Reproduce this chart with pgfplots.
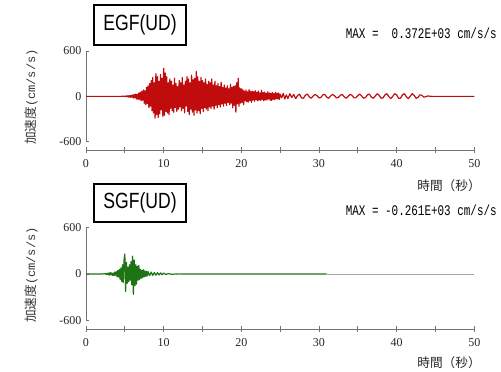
\documentclass[border=0pt]{standalone}
\usepackage{pgfplots}
\pgfplotsset{compat=1.18}
\usepackage{pgfplotstable}
\usepackage{fontspec}
\setmainfont{Liberation Serif}
\newfontfamily\cjk{Noto Sans CJK JP}
\newfontfamily\sansf{Liberation Sans}
\newfontfamily\monof{Liberation Mono}
\definecolor{egf}{RGB}{192,12,12}
\definecolor{sgf}{RGB}{30,115,20}
\definecolor{axgray}{RGB}{115,115,115}

\pgfplotstableread{
t a
0 0
4.5 0
5.0 3
5.1 -5
5.2 6
5.3 -4
5.4 8
5.5 -10
5.6 9
5.7 -12
5.8 14
5.9 -11
6.0 18
6.1 -22
6.2 25
6.3 -20
6.4 30
6.5 -35
6.6 28
6.7 -40
6.8 45
6.9 -38
7.0 55
7.1 -60
7.2 70
7.3 -50
7.4 85
7.5 -90
7.6 75
7.7 -110
7.8 120
7.9 -95
8.0 140
8.1 -150
8.2 170
8.3 -130
8.4 210
8.5 -190
8.6 250
8.7 -220
8.8 180
8.9 -290
9.0 300
9.1 -240
9.2 260
9.3 -280
9.4 200
9.5 -230
9.6 290
9.7 -180
9.8 240
9.9 -270
10.0 372
10.1 -250
10.2 310
10.3 -200
10.4 260
10.5 -220
10.6 180
10.7 -240
10.8 230
10.9 -160
11.0 200
11.1 -190
11.2 150
11.3 -210
11.4 240
11.5 -150
11.6 170
11.7 -200
11.8 130
11.9 -170
12.0 210
12.1 -140
12.2 180
12.3 -190
12.4 250
12.5 -160
12.6 150
12.7 -220
12.8 200
12.9 -130
13.0 260
13.1 -200
13.2 230
13.3 -240
13.4 180
13.5 -170
13.6 280
13.7 -210
13.8 220
13.9 -250
14.0 240
14.1 -180
14.2 330
14.3 -220
14.4 260
14.5 -190
14.6 200
14.7 -230
14.8 250
14.9 -160
15.0 210
15.1 -200
15.2 180
15.3 -150
15.4 230
15.5 -170
15.6 160
15.7 -190
15.8 200
15.9 -140
16.0 180
16.1 -160
16.2 230
16.3 -130
16.4 150
16.5 -170
16.6 200
16.7 -120
16.8 140
16.9 -150
17.0 170
17.1 -110
17.2 130
17.3 -140
17.4 190
17.5 -100
17.6 120
17.7 -130
17.8 150
17.9 -90
18.0 110
18.1 -120
18.2 140
18.3 -80
18.4 100
18.5 -110
18.6 160
18.7 -90
18.8 120
18.9 -150
19.0 130
19.1 -120
19.2 140
19.3 -210
19.4 180
19.5 -100
19.6 240
19.7 -130
19.8 110
19.9 -90
20.0 100
20.1 -80
20.2 90
20.3 -110
20.4 70
20.5 -60
20.6 85
20.7 -70
20.8 60
20.9 -75
21.0 90
21.1 -55
21.2 65
21.3 -80
21.4 70
21.5 -50
21.6 60
21.7 -65
21.8 75
21.9 -45
22.0 55
22.1 -60
22.2 70
22.3 -50
22.4 45
22.5 -55
22.6 80
22.7 -40
22.8 50
22.9 -60
23.0 55
23.1 -45
23.2 40
23.3 -50
23.4 60
23.5 -35
23.6 45
23.7 -50
23.8 40
23.9 -55
24.0 50
24.1 -40
24.2 35
24.3 -45
24.4 55
24.5 -30
24.6 40
24.7 -35
24.8 45
24.9 -40
25.0 30
25.2 -20
25.4 40
25.6 -35
25.8 20
26.0 -30
26.25 35
26.5 -15
26.75 25
27.0 -30
27.25 10
27.5 30
27.75 -20
28.0 -25
28.25 15
28.5 30
28.75 -5
29.0 -25
29.25 5
29.5 25
29.75 10
30.0 -20
30.25 -15
30.5 20
30.75 25
31.0 -10
31.25 -25
31.5 5
31.75 25
32.0 10
32.25 -20
32.5 -15
32.75 15
33.0 25
33.25 -5
33.5 -25
33.75 0
34.0 25
34.25 15
34.5 -20
34.75 -20
35.0 10
35.25 30
35.5 5
35.75 -25
36.0 -15
36.25 20
36.5 30
36.75 -10
37.0 -25
37.25 5
37.5 35
37.75 15
38.0 -25
38.25 -20
38.5 20
38.75 35
39.0 -5
39.25 -30
39.5 0
39.75 35
40.0 20
40.25 -25
40.5 -25
40.75 20
41.0 35
41.25 -5
41.5 -30
41.75 0
42.0 35
42.25 15
42.5 -25
42.75 -15
43.0 20
43.25 15
43.5 -10
43.75 -5
44.0 5
44.5 0
50 0
}\egfdata

\pgfplotstableread{
t a
0 0
2.0 0
2.5 5
2.6 -8
2.7 10
2.8 -6
2.9 12
3.0 -15
3.1 20
3.2 -10
3.3 15
3.4 -18
3.5 12
3.6 -20
3.7 25
3.8 -15
3.9 30
4.0 -35
4.1 45
4.2 -40
4.3 60
4.4 -70
4.5 80
4.6 -95
4.7 120
4.8 -110
4.9 180
5.0 258
5.1 -225
5.2 150
5.3 -120
5.4 90
5.5 -100
5.6 120
5.7 -80
5.8 160
5.9 -140
6.0 230
6.1 -261
6.2 180
6.3 -150
6.4 120
6.5 -130
6.6 100
6.7 -80
6.8 110
6.9 -70
7.0 60
7.1 -55
7.2 50
7.3 -45
7.4 55
7.5 -35
7.6 40
7.7 -30
7.8 35
7.9 -25
8.0 30
8.2 -20
8.4 25
8.6 -18
8.8 20
9.0 -15
9.2 18
9.4 -12
9.6 15
9.8 -10
10.0 12
10.3 -6
10.6 5
11.0 -3
12.0 2
13.0 0
31.0 0
}\sgfdata

\pgfplotsset{
  yaxstyle/.style={scale only axis, width=291.2pt, xmin=0, xmax=50, ymin=-600, ymax=600,
    axis x line=none, axis y line=left, axis line style={axgray, line width=0.6pt, -},
    ytick={-600,0,600}, yticklabels={-600,0,600},
    tick style={axgray, line width=0.6pt}, ytick align=inside, major tick length=2.5pt,
    yticklabel style={font=\fontsize{9}{10}\selectfont, text=black!85}, clip=false},
  xaxstyle/.style={scale only axis, width=291.2pt, height=10pt, xmin=0, xmax=50, ymin=0, ymax=1,
    axis y line=none, axis x line=bottom, axis line style={axgray, line width=0.6pt, -},
    xtick={0,5,...,50}, xticklabels={0,,10,,20,,30,,40,,50},
    tick style={axgray, line width=0.6pt}, xtick align=center, major tick length=4.5pt,
    xticklabel style={font=\fontsize{9}{10}\selectfont, text=black!85, yshift=-1.5pt}},
}

\begin{document}
\begin{tikzpicture}
\path[use as bounding box] (0pt,0pt) rectangle (375.75pt,279pt);

% ---------- top panel ----------
\begin{axis}[yaxstyle, height=68pt, at={(64.5pt,172.725pt)}, anchor=south west]
\addplot[egf, line width=0.9pt, line join=round] table[x=t, y=a] {\egfdata};
\end{axis}
\begin{axis}[xaxstyle, at={(64.5pt,166.5pt)}, anchor=south west]
\end{axis}

% ---------- bottom panel ----------
\begin{axis}[yaxstyle, height=70pt, at={(64.5pt,38.475pt)}, anchor=south west]
\addplot[black!35, line width=0.6pt] coordinates {(31,0) (50,0)};
\addplot[sgf, line width=0.9pt, line join=round] table[x=t, y=a] {\sgfdata};
\end{axis}
\begin{axis}[xaxstyle, at={(64.5pt,32.025pt)}, anchor=south west]
\end{axis}

% ---------- texts (coordinates in reference pixels) ----------
\begin{scope}[x=0.75pt, y=0.75pt]
\node[draw, line width=1.5pt, minimum width=69pt, minimum height=30pt, inner sep=0pt]
  at (140,347) {\sansf\fontsize{16.5}{18}\selectfont\scalebox{0.8}[1]{EGF(UD)}};
\node[draw, line width=1.5pt, minimum width=69pt, minimum height=29pt, inner sep=0pt]
  at (140,169) {\sansf\fontsize{16.5}{18}\selectfont\scalebox{0.8}[1]{SGF(UD)}};

\node[anchor=east, inner sep=0pt] at (497,339)
  {\monof\fontsize{10}{11}\selectfont\scalebox{0.82}[1.1]{MAX =\ \ 0.372E+03 cm/s/s}};
\node[anchor=east, inner sep=0pt] at (497,162)
  {\monof\fontsize{10}{11}\selectfont\scalebox{0.82}[1.1]{MAX = -0.261E+03 cm/s/s}};

\node[rotate=90, inner sep=0pt, text=black!80] at (31,275)
  {{\cjk\fontsize{9.5}{11}\selectfont 加速度}{\monof\fontsize{9}{11}\selectfont(cm/s/s)}};
\node[rotate=90, inner sep=0pt, text=black!80] at (31,97)
  {{\cjk\fontsize{9.5}{11}\selectfont 加速度}{\monof\fontsize{9}{11}\selectfont(cm/s/s)}};

\node[anchor=east, inner sep=0pt, text=black!85] at (481,186)
  {\cjk\fontsize{9.5}{11}\selectfont 時間（秒）};
\node[anchor=east, inner sep=0pt, text=black!85] at (481,9)
  {\cjk\fontsize{9.5}{11}\selectfont 時間（秒）};
\end{scope}
\end{tikzpicture}
\end{document}
